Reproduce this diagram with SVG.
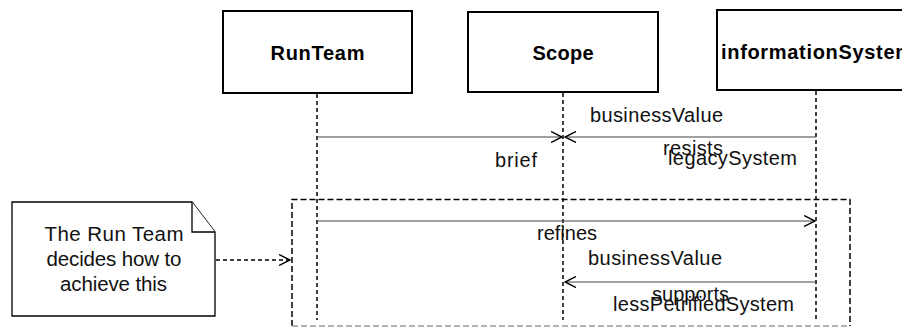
<svg xmlns="http://www.w3.org/2000/svg" width="902" height="327" viewBox="0 0 902 327">
<defs>
<style>
.box{fill:#fff;stroke:#000;stroke-width:2}
.title{font-family:"Liberation Sans",Arial,sans-serif;font-size:20px;font-weight:bold;text-anchor:middle;fill:#000}
.life{stroke:#000;stroke-width:1.5;stroke-dasharray:4,3;fill:none}
.msg{stroke:#444;stroke-width:1.2;fill:none}
.lbl{font-family:"Liberation Sans",Arial,sans-serif;font-size:20px;fill:#111}
.nt{font-family:"Liberation Sans",Arial,sans-serif;font-size:20.5px;fill:#111;text-anchor:middle}
.frame{stroke:#000;stroke-width:1.5;stroke-dasharray:6,3;fill:none}
.frameb{stroke:#999;stroke-width:1.5;stroke-dasharray:6,3;fill:none}
.note{fill:#fff;stroke:#000;stroke-width:1.3}
.dash{stroke:#000;stroke-width:1.5;stroke-dasharray:4,3;fill:none}
</style>
<marker id="open" markerUnits="userSpaceOnUse" viewBox="0 0 12 12" refX="11" refY="6" markerWidth="12" markerHeight="12" orient="auto">
<path d="M0,0.5 L11,6 L0,11.5" fill="none" stroke="#000" stroke-width="1.4"/>
</marker>
</defs>
<rect width="902" height="327" fill="#fff"/>

<g id="RunTeam">
<rect class="box" x="223" y="11" width="189" height="82"/>
<text class="title" x="317.5" y="60" textLength="94">RunTeam</text>
<line class="life" x1="317" y1="94" x2="317" y2="320"/>
</g>

<g id="Scope">
<rect class="box" x="468" y="12" width="190" height="80"/>
<text class="title" x="563" y="60" textLength="61">Scope</text>
<line class="life" x1="563" y1="93" x2="563" y2="320"/>
</g>

<g id="informationSystem">
<rect class="box" x="717" y="10" width="198" height="80"/>
<text class="title" x="721" y="59" style="text-anchor:start" textLength="192">informationSystem</text>
<line class="life" x1="816" y1="91" x2="816" y2="320"/>
</g>

<g id="frame">
<path class="frame" d="M292,326 L292,199.5 L850,199.5 L850,326"/>
<line class="frameb" x1="292" y1="326" x2="850" y2="326"/>
</g>

<g id="note">
<path class="note" d="M12,202 L192,202 L215,232 L215,316 L12,316 Z"/>
<path class="note" d="M192,202 L192,232 L215,232" fill="none"/>
<text class="nt" x="114" y="241" textLength="139">The Run Team</text>
<text class="nt" x="114" y="266" textLength="135">decides how to</text>
<text class="nt" x="113.5" y="291" textLength="107">achieve this</text>
</g>

<g id="connectors">
<line class="msg" x1="317" y1="137" x2="562" y2="137" marker-end="url(#open)"/>
<line class="msg" x1="816" y1="137" x2="565" y2="137" marker-end="url(#open)"/>
<line class="msg" x1="317" y1="221" x2="815" y2="221" marker-end="url(#open)"/>
<line class="msg" x1="816" y1="282" x2="565" y2="282" marker-end="url(#open)"/>
<line class="dash" x1="216" y1="260" x2="290" y2="260" marker-end="url(#open)"/>
<text class="lbl" x="495" y="167" textLength="42">brief</text>
<text class="lbl" x="590" y="122" textLength="133">businessValue</text>
<text class="lbl" x="663" y="155" textLength="60">resists</text>
<text class="lbl" x="668" y="165" textLength="129">legacySystem</text>
<text class="lbl" x="537" y="240" textLength="60">refines</text>
<text class="lbl" x="588" y="265" textLength="134">businessValue</text>
<text class="lbl" x="652" y="301" textLength="77">supports</text>
<text class="lbl" x="613" y="311" textLength="181">lessPetrifiedSystem</text>
</g>
</svg>
